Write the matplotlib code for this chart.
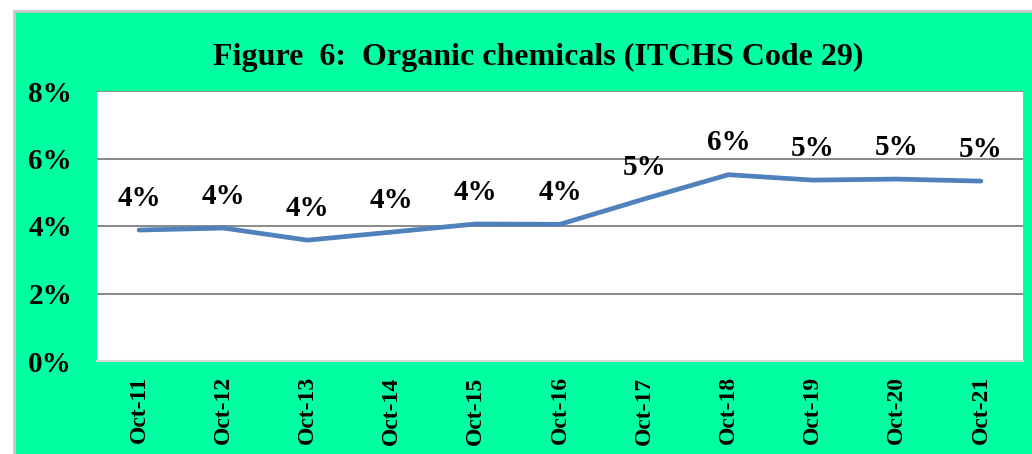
import matplotlib.pyplot as plt
from matplotlib.patches import Rectangle
from matplotlib.ticker import FuncFormatter

# data (share in %)
years = ['Oct-11', 'Oct-12', 'Oct-13', 'Oct-14', 'Oct-15', 'Oct-16',
         'Oct-17', 'Oct-18', 'Oct-19', 'Oct-20', 'Oct-21']
share = [3.88, 3.94, 3.58, 3.82, 4.06, 4.05, 4.80, 5.52, 5.36, 5.39, 5.33]

plt.rcParams['font.family'] = ['Liberation Serif', 'DejaVu Serif']
plt.rcParams['font.weight'] = 'bold'

fig = plt.figure(figsize=(10.32, 4.54), dpi=100)
fig.patch.set_facecolor('white')

# green chart area with light grey border (right/bottom run off the page)
bg = Rectangle((14 / 1032, -0.05), 1.05, 1.05 - 11 / 454,
               transform=fig.transFigure, facecolor='#00FFA0',
               edgecolor='#C8C8C8', linewidth=2, zorder=-5)
fig.patches.append(bg)

ax = fig.add_axes([97 / 1032, 93 / 454, 926 / 1032, 270 / 454])
ax.set_facecolor('white')

x = range(len(years))
ax.plot(x, share, color='#4F81BD', linewidth=3.4, solid_capstyle='round',
        solid_joinstyle='round', zorder=3)

for i, v in enumerate(share):
    ax.annotate(f'{v:.0f}%', (i, v), xytext=(0, 23), textcoords='offset points',
                ha='center', va='center', fontsize=21, fontweight='bold')

ax.set_xlim(-0.5, len(years) - 0.5)
ax.set_ylim(0, 8)
ax.set_yticks([0, 2, 4, 6, 8])
ax.yaxis.set_major_formatter(FuncFormatter(lambda v, p: f'{v:.0f}%'))
ax.set_xticks(list(x))
ax.set_xticklabels(years, rotation=90, fontsize=17, fontweight='bold')

ax.grid(axis='y', color='#808080', linewidth=1.3, zorder=1)
ax.tick_params(axis='y', length=0, pad=18, labelsize=21)
ax.tick_params(axis='x', length=0, pad=11)

for s in ['left', 'right', 'top']:
    ax.spines[s].set_visible(False)
ax.spines['bottom'].set_color('#D9D9D9')
ax.spines['bottom'].set_linewidth(1.5)

fig.text(538 / 1032, 1 - 57 / 454, 'Figure  6:  Organic chemicals (ITCHS Code 29)',
         ha='center', va='center', fontsize=23, fontweight='bold')

fig.savefig('out.png', dpi=100, facecolor=fig.get_facecolor())
